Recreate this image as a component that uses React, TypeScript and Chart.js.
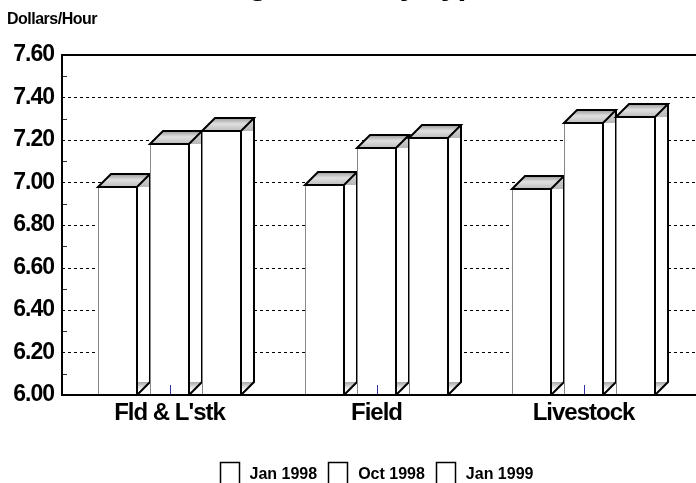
import React, { useEffect, useRef } from "react";
import { Chart, registerables } from "chart.js";

Chart.register(...registerables);

const TITLE = "Wage Rates by Type";
const Y_TITLE = "Dollars/Hour";
const CATEGORIES = ["Fld & L'stk", "Field", "Livestock"];
const SERIES_LABELS = ["Jan 1998", "Oct 1998", "Jan 1999"];
const JAN_1998 = [6.98, 6.99, 6.97];
const OCT_1998 = [7.18, 7.16, 7.28];
const JAN_1999 = [7.24, 7.21, 7.31];
const Y_MIN = 6.0;
const Y_MAX = 7.6;
const Y_STEP = 0.2;

const FONT = "'Liberation Sans', Arial, Helvetica, sans-serif";
const DEPTH = 13;

const threeDPlugin = {
  id: "threeD",
  beforeDraw(chart: any) {
    chart.ctx.letterSpacing = "-1px";
  },
  beforeDatasetsDraw(chart: any) {
    const { ctx, chartArea, scales } = chart;
    const ys = scales.y;
    const axisX = chartArea.left - 4;
    const rightX = chart.width;
    const vals: number[] = ys.ticks.map((t: any) => t.value);
    ctx.save();
    ctx.strokeStyle = "#000";
    ctx.lineWidth = 1;
    ctx.setLineDash([3, 3]);
    for (const v of vals) {
      if (v <= Y_MIN + 1e-6 || v >= Y_MAX - 1e-6) continue;
      const py = Math.round(ys.getPixelForValue(v)) + 0.5;
      ctx.beginPath();
      ctx.moveTo(axisX, py);
      ctx.lineTo(rightX, py);
      ctx.stroke();
    }
    ctx.setLineDash([]);
    ctx.strokeStyle = "#333";
    for (let i = 0; i < vals.length - 1; i++) {
      const v = (vals[i] + vals[i + 1]) / 2;
      const py = Math.round(ys.getPixelForValue(v)) + 0.5;
      ctx.beginPath();
      ctx.moveTo(axisX, py);
      ctx.lineTo(axisX + 5, py);
      ctx.stroke();
    }
    ctx.restore();
  },
  afterDatasetsDraw(chart: any) {
    const { ctx, chartArea, scales } = chart;
    const D = DEPTH;
    ctx.save();
    ctx.letterSpacing = "0px";
    chart.data.datasets.forEach((_ds: any, di: number) => {
      const meta = chart.getDatasetMeta(di);
      meta.data.forEach((el: any) => {
        const { x, y, base, width } = el.getProps(["x", "y", "base", "width"], true);
        const l = Math.round(x - width / 2);
        const r = Math.round(x + width / 2);
        const t = Math.round(y);
        const b = Math.round(Math.min(base, chartArea.bottom));

        // side face
        ctx.beginPath();
        ctx.moveTo(r, t);
        ctx.lineTo(r + D, t - D);
        ctx.lineTo(r + D, b - D);
        ctx.lineTo(r, b);
        ctx.closePath();
        ctx.fillStyle = "#fff";
        ctx.fill();
        // top shading on side
        let g = ctx.createLinearGradient(0, t - D, 0, t);
        g.addColorStop(0, "#d8d8d8");
        g.addColorStop(1, "#b8b8b8");
        ctx.beginPath();
        ctx.moveTo(r, t);
        ctx.lineTo(r + D, t - D);
        ctx.lineTo(r + D, t);
        ctx.closePath();
        ctx.fillStyle = g;
        ctx.fill();
        // bottom shading on side
        g = ctx.createLinearGradient(0, b - D, 0, b - D + 8);
        g.addColorStop(0, "#a8a8a8");
        g.addColorStop(1, "#ffffff");
        ctx.beginPath();
        ctx.moveTo(r, b - D);
        ctx.lineTo(r + D, b - D);
        ctx.lineTo(r, b);
        ctx.closePath();
        ctx.fillStyle = g;
        ctx.fill();
        ctx.strokeStyle = "#000";
        ctx.lineWidth = 2;
        ctx.beginPath();
        ctx.moveTo(r + D, t - D);
        ctx.lineTo(r + D, b - D);
        ctx.lineTo(r, b);
        ctx.stroke();

        // top face
        g = ctx.createLinearGradient(0, t - D, 0, t);
        g.addColorStop(0, "#9a9a9a");
        g.addColorStop(0.45, "#e0e0e0");
        g.addColorStop(1, "#bcbcbc");
        ctx.beginPath();
        ctx.moveTo(l, t);
        ctx.lineTo(l + D, t - D);
        ctx.lineTo(r + D, t - D);
        ctx.lineTo(r, t);
        ctx.closePath();
        ctx.fillStyle = g;
        ctx.fill();
        ctx.lineJoin = "miter";
        ctx.stroke();

        // front face
        ctx.fillStyle = "#fff";
        ctx.fillRect(l, t, r - l, b - t);
        ctx.strokeStyle = "#888";
        ctx.lineWidth = 1;
        ctx.beginPath();
        ctx.moveTo(l + 0.5, b);
        ctx.lineTo(l + 0.5, t);
        ctx.stroke();
        ctx.strokeStyle = "#000";
        ctx.lineWidth = 2;
        ctx.beginPath();
        ctx.moveTo(l, t);
        ctx.lineTo(r, t);
        ctx.lineTo(r, b);
        ctx.stroke();
      });
    });

    // category tick marks (blue)
    const xs = scales.x;
    ctx.strokeStyle = "#3030a8";
    ctx.lineWidth = 1;
    CATEGORIES.forEach((_c, i) => {
      const px = Math.round(xs.getPixelForValue(i)) + 0.5;
      ctx.beginPath();
      ctx.moveTo(px, chartArea.bottom - 10);
      ctx.lineTo(px, chartArea.bottom);
      ctx.stroke();
    });

    // axes frame
    const axisX = chartArea.left - 4;
    ctx.strokeStyle = "#000";
    ctx.lineWidth = 2;
    ctx.beginPath();
    ctx.moveTo(chart.width, chartArea.top);
    ctx.lineTo(axisX, chartArea.top);
    ctx.lineTo(axisX, chartArea.bottom);
    ctx.lineTo(chart.width, chartArea.bottom);
    ctx.stroke();
    ctx.restore();
  },
  afterDraw(chart: any) {
    const { ctx, chartArea } = chart;
    ctx.save();
    ctx.fillStyle = "#000";
    // title (cut off at top in the reference)
    ctx.font = `bold 32px ${FONT}`;
    ctx.letterSpacing = "-1px";
    ctx.textAlign = "center";
    ctx.textBaseline = "alphabetic";
    ctx.fillText(TITLE, chart.width / 2, chartArea.top - 61);
    // y-axis title
    ctx.font = `bold 16px ${FONT}`;
    ctx.letterSpacing = "-0.5px";
    ctx.textAlign = "left";
    ctx.fillText(Y_TITLE, 7, chartArea.top - 31);
    // legend
    ctx.font = `bold 16px ${FONT}`;
    ctx.letterSpacing = "0px";
    const boxW = 20;
    const gapBox = 10;
    const gapItem = 11;
    const labels: string[] = chart.data.datasets.map((d: any) => d.label);
    const widths = labels.map((s) => ctx.measureText(s).width);
    const total =
      widths.reduce((a, w) => a + boxW + gapBox + w, 0) + gapItem * (labels.length - 1);
    let cx = (chartArea.left + chartArea.right) / 2 - total / 2;
    const boxTop = chartArea.bottom + 67;
    const baseY = chartArea.bottom + 84;
    labels.forEach((s, i) => {
      ctx.fillStyle = "#fff";
      ctx.fillRect(cx, boxTop, boxW, 24);
      ctx.strokeStyle = "#000";
      ctx.lineWidth = 1.5;
      ctx.strokeRect(Math.round(cx) + 0.5, boxTop + 0.5, boxW - 1, 24);
      ctx.fillStyle = "#000";
      ctx.fillText(s, cx + boxW + gapBox, baseY);
      cx += boxW + gapBox + widths[i] + gapItem;
    });
    ctx.restore();
  },
};

export default function App() {
  const ref = useRef<HTMLCanvasElement>(null);
  useEffect(() => {
    if (!ref.current) return;
    const chart = new Chart(ref.current, {
      type: "bar",
      data: {
        labels: CATEGORIES,
        datasets: [
          { label: SERIES_LABELS[0], data: JAN_1998 },
          { label: SERIES_LABELS[1], data: OCT_1998 },
          { label: SERIES_LABELS[2], data: JAN_1999 },
        ].map((d) => ({
          ...d,
          backgroundColor: "rgba(0,0,0,0)",
          borderWidth: 0,
          categoryPercentage: 156 / 207,
          barPercentage: 0.75,
        })),
      },
      options: {
        responsive: false,
        animation: false,
        devicePixelRatio: 1,
        layout: { padding: { left: 0, top: 95, right: 9, bottom: 28 } },
        plugins: {
          legend: { display: false },
          title: { display: false },
          tooltip: { enabled: false },
        },
        scales: {
          x: {
            type: "category",
            offset: true,
            grid: { display: false, drawTicks: false },
            border: { display: false },
            ticks: {
              color: "#000",
              font: { family: FONT, size: 24, weight: "bold" },
              padding: 4,
              maxRotation: 0,
              autoSkip: false,
            },
            afterFit: (s: any) => {
              s.height = 60;
              s.paddingLeft = 0;
              s.paddingRight = 0;
            },
          },
          y: {
            min: Y_MIN,
            max: Y_MAX,
            grid: { display: false, drawTicks: false },
            border: { display: false },
            ticks: {
              stepSize: Y_STEP,
              color: "#000",
              font: { family: FONT, size: 23, weight: "bold" },
              padding: 12,
              callback: (v: any) => Number(v).toFixed(2),
            },
            afterFit: (s: any) => {
              s.width = 66;
              s.paddingTop = 0;
              s.paddingBottom = 0;
            },
          },
        },
      },
      plugins: [threeDPlugin],
    } as any);
    return () => chart.destroy();
  }, []);
  return (
    <div style={{ position: "absolute", left: 0, top: -40, width: 696, height: 523 }}>
      <canvas ref={ref} width={696} height={523} style={{ display: "block", width: 696, height: 523 }} />
    </div>
  );
}
